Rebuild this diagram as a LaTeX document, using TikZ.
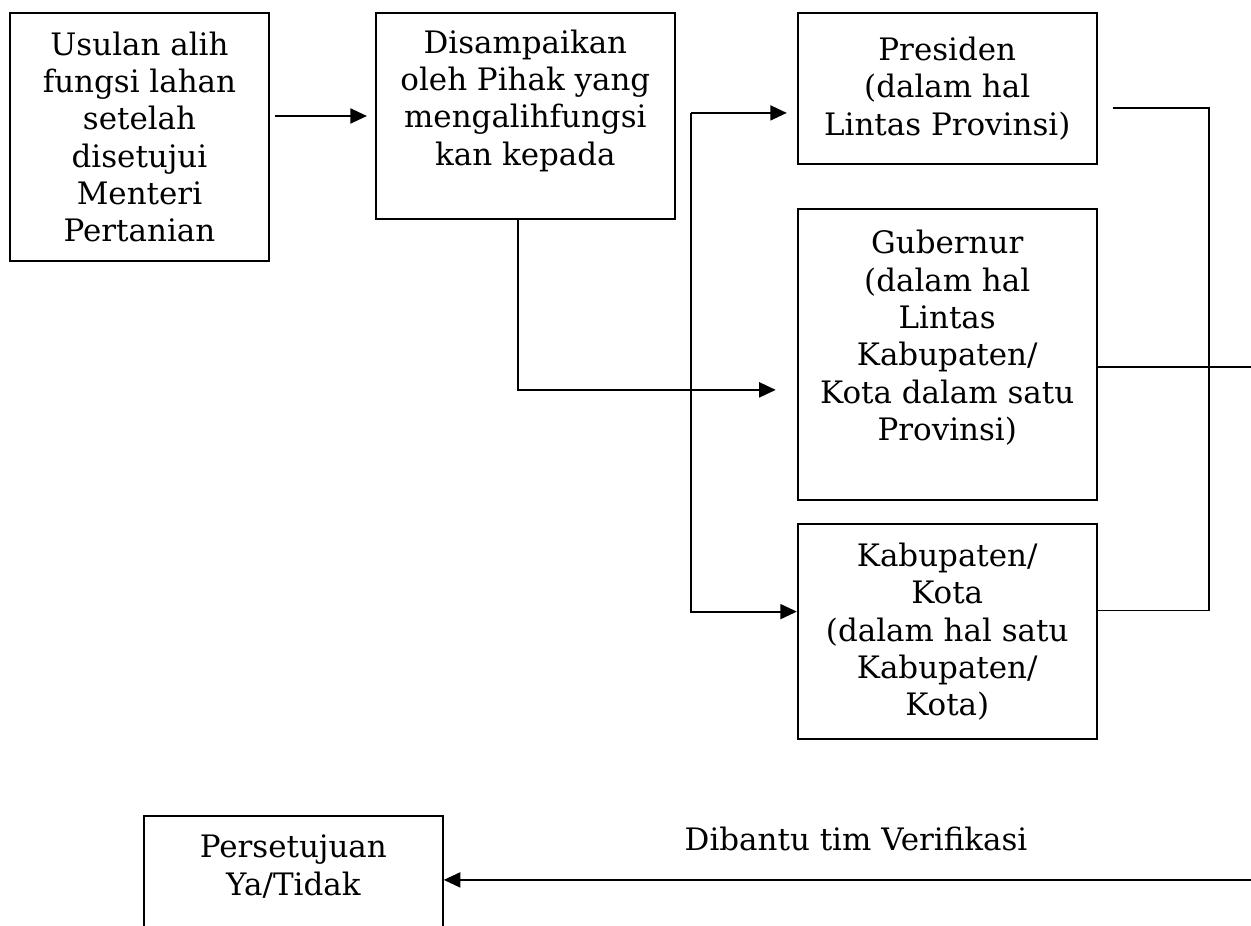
\documentclass[tikz,border=0pt]{standalone}
\usepackage{fontspec}
\setmainfont{DejaVu Serif}
\usetikzlibrary{arrows.meta,positioning}

\begin{document}
\begin{tikzpicture}[
    every node/.style={font=\fontsize{11.6pt}{14pt}\selectfont},
    box/.style={draw, line width=0.7pt, align=center, inner sep=0pt, minimum width=112.1pt},
    flow/.style={-{Triangle[length=6.2pt,width=5.6pt]}, line width=0.8pt},
    link/.style={line width=0.65pt}
]
\useasboundingbox (0,0) rectangle (469.1pt,-346.9pt);
\clip (0,0) rectangle (469.1pt,-346.9pt);
\node[box, minimum width=97.1pt, minimum height=93pt, anchor=north west] (usulan) at (3.4pt,-4.5pt) {Usulan alih\\fungsi lahan\\setelah\\disetujui\\Menteri\\Pertanian};
\node[box, minimum height=77.3pt, right=39.4pt of usulan.north east, anchor=north west] (disampaikan) {Disampaikan\\oleh Pihak yang\\mengalihfungsi\\kan kepada\\\mbox{}};
\node[box, minimum width=112.1pt, minimum height=56.6pt, right=45.4pt of disampaikan.north east, anchor=north west] (presiden) {Presiden\\(dalam hal\\Lintas Provinsi)};
\node[box, minimum height=109.1pt, below=16.1pt of presiden] (gubernur) {Gubernur\\(dalam hal\\Lintas\\Kabupaten/\\Kota dalam satu\\Provinsi)\\\mbox{}};
\node[box, minimum height=80.6pt, below=8.6pt of gubernur] (kabupaten) {Kabupaten/\\Kota\\(dalam hal satu\\Kabupaten/\\Kota)};
\node[box, minimum height=50.8pt, anchor=north west] (persetujuan) at (53.6pt,-305.6pt) {Persetujuan\\Ya/Tidak\\\mbox{}};
\node[anchor=base] (verifikasi) at (321pt,-319.1pt) {Dibantu tim Verifikasi};
\coordinate (fork) at (259.1pt,0);
\coordinate (join) at (453.4pt,0);
\coordinate (edge) at (480pt,0);
\coordinate (presin) at ([yshift=-9.2pt]presiden.west);
\coordinate (kabin) at ([yshift=7.6pt]kabupaten.west);
\coordinate (presout) at ([xshift=5.6pt,yshift=-7.3pt]presiden.east);
\coordinate (kabout) at ([yshift=8pt]kabupaten.east);
\coordinate (gubout) at ([yshift=-4.7pt]gubernur.east);
\coordinate (setujuin) at ([yshift=1.4pt]persetujuan.east);
\draw[flow, shorten <=1.9pt, shorten >=3pt] (usulan.east |- disampaikan.west) -- (disampaikan.west);
\draw[flow, shorten >=7.9pt] ([xshift=-2.8pt]disampaikan.south) |- ([yshift=-13.4pt]gubernur.west);
\draw[flow] (fork |- presin) -- (fork |- kabin) -- (kabin);
\draw[flow, shorten >=3.75pt] (fork |- presin) -- (presin);
\draw[link] (presout) -| (join |- kabout) -- (kabout);
\draw[flow] (gubout) -| (edge |- setujuin) -- (setujuin);
\end{tikzpicture}
\end{document}
